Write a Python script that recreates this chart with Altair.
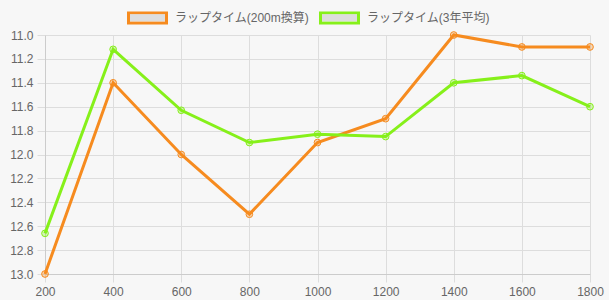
import altair as alt
import pandas as pd

distances = [200, 400, 600, 800, 1000, 1200, 1400, 1600, 1800]
series_names = ["ラップタイム(200m換算)", "ラップタイム(3年平均)"]
lap_200m = [13.0, 11.4, 12.0, 12.5, 11.9, 11.7, 11.0, 11.1, 11.1]
lap_3yr = [12.66, 11.12, 11.63, 11.9, 11.83, 11.85, 11.4, 11.34, 11.6]
colors = ["#f68b1f", "#86f01a"]
legend_fill = ["#dddddd", "#dddddd"]
y_ticks = [11.0, 11.2, 11.4, 11.6, 11.8, 12.0, 12.2, 12.4, 12.6, 12.8, 13.0]
x_ticks = distances

rows = []
for name, vals in zip(series_names, [lap_200m, lap_3yr]):
    for d, v in zip(distances, vals):
        rows.append({"distance": d, "time": v, "series": name, "series_box": name})
df = pd.DataFrame(rows)

FONT = "Liberation Sans, 'Noto Sans CJK JP', sans-serif"
FRAME = "M-1,-0.32H1V0.32H-1Z M-0.854,-0.17V0.17H0.854V-0.17Z"
INNER = "M-0.854,-0.17H0.854V0.17H-0.854Z"
SYM_SIZE = 1681

x = alt.X("distance:Q",
          scale=alt.Scale(domain=[200, 1800], nice=False, zero=False),
          axis=alt.Axis(values=x_ticks, format="d", title=None, labelColor="#666666", labelFontSize=12,
                        tickColor="#dddddd", tickSize=8, labelPadding=4,
                        gridColor="#dddddd", domainColor="#cccccc", labelFont=FONT,
                        labelFlush=False))
y = alt.Y("time:Q",
          scale=alt.Scale(domain=[11.0, 13.0], reverse=True, nice=False, zero=False),
          axis=alt.Axis(values=y_ticks, format=".1f", title=None, labelColor="#666666",
                        labelFontSize=12, tickColor="#dddddd", tickSize=8, labelPadding=4,
                        gridColor="#dddddd", domainColor="#cccccc", labelFont=FONT,
                        labelFlush=False))
cscale = alt.Scale(domain=series_names, range=colors)


def make_legend(symbol, label_opacity):
    return alt.Legend(title=None, orient="none", direction="horizontal",
                      legendX=82, legendY=-38,
                      symbolType=symbol, symbolSize=SYM_SIZE,
                      symbolStrokeWidth=0, symbolOpacity=1,
                      labelFontSize=12, labelColor="#666666", labelFont=FONT,
                      labelOpacity=label_opacity,
                      labelOffset=7, columnPadding=9, padding=0)


legend_frame = alt.Chart(df).mark_point(shape=FRAME, filled=True, opacity=0, strokeWidth=0).encode(
    x=x, y=y,
    fill=alt.Fill("series:N", scale=cscale, legend=make_legend(FRAME, 1)))
legend_inner = alt.Chart(df).mark_point(shape=INNER, filled=True, opacity=0, strokeWidth=0).encode(
    x=x, y=y,
    color=alt.Color("series_box:N", scale=alt.Scale(range=legend_fill),
                    legend=make_legend(INNER, 0)))

lines = alt.Chart(df).mark_line(strokeWidth=3).encode(
    x=x, y=y, stroke=alt.Stroke("series:N", scale=cscale, legend=None))
points = alt.Chart(df).mark_point(shape="circle", size=45, strokeWidth=1, filled=False,
                                  fillOpacity=0.3).encode(
    x=x, y=y,
    stroke=alt.Stroke("series:N", scale=cscale, legend=None),
    fill=alt.Fill("series:N", scale=cscale, legend=None),
)

chart = alt.layer(legend_frame, legend_inner, lines, points).properties(
    width=545, height=239,
    autosize=alt.AutoSizeParams(type="none"),
    padding={"left": 45, "top": 35, "right": 19, "bottom": 26},
    background="#f7f7f7",
).configure_view(stroke=None).configure_axis(grid=True)

chart.save("out.html", embed_options={"renderer": "svg", "actions": False})
